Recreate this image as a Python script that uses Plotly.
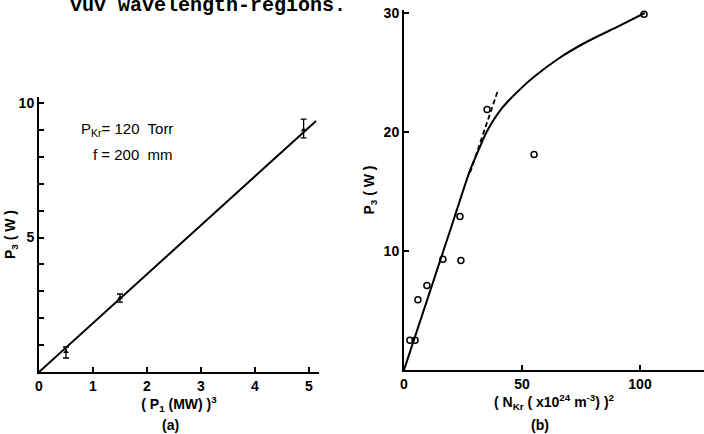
import plotly.graph_objects as go

W, H = 704, 434

# ---- panel (a) data ----
a_x = [0.5, 1.5, 4.9]
a_y = [0.75, 2.75, 9.0]
a_err_plus = [0.18, 0.15, 0.4]
a_err_minus = [0.23, 0.15, 0.3]
a_fit_x = [0.0, 5.13]
a_fit_y = [0.0, 9.33]
a_xticks = [0, 1, 2, 3, 4, 5]
a_xticklabels = ["0", "1", "2", "3", "4", "5"]
a_yticks = [0, 1, 2, 3, 4, 5, 6, 7, 8, 9, 10]
a_yticklabels = ["", "", "", "", "", "5", "", "", "", "", "10"]

# ---- panel (b) data ----
b_x = [2.5, 4.7, 5.9, 9.7, 16.5, 24.1, 23.7, 35.2, 55.1, 101.7]
b_y = [2.5, 2.5, 5.9, 7.1, 9.3, 9.2, 12.9, 21.9, 18.1, 29.9]
b_curve_x = [0, 10, 20, 28, 31, 35, 41.5, 48.7, 55.5, 65.7, 76.7, 91, 102]
b_curve_y = [0, 6.0, 12.0, 16.8, 18.2, 20.0, 22.0, 23.5, 24.7, 26.2, 27.5, 28.9, 30.0]
b_dash_x = [28, 39.8]
b_dash_y = [16.6, 23.5]
b_xticks = [0, 50, 100]
b_xticklabels = ["0", "50", "100"]
b_yticks = [0, 10, 20, 30]
b_yticklabels = ["", "10", "20", "30"]

def px_x(p):
    return p / W

def px_y(p):
    return 1 - p / H

fig = go.Figure()

fig.add_trace(go.Scatter(x=a_fit_x, y=a_fit_y, mode="lines",
                         line=dict(color="black", width=2), xaxis="x", yaxis="y",
                         showlegend=False))
fig.add_trace(go.Scatter(x=a_x, y=a_y, mode="markers",
                         marker=dict(symbol="triangle-up", size=5, color="black"),
                         error_y=dict(type="data", symmetric=False, array=a_err_plus,
                                      arrayminus=a_err_minus, color="black",
                                      thickness=1.3, width=3),
                         xaxis="x", yaxis="y", showlegend=False))

fig.add_trace(go.Scatter(x=b_curve_x, y=b_curve_y, mode="lines",
                         line=dict(color="black", width=2, shape="spline", smoothing=0.7),
                         xaxis="x2", yaxis="y2", showlegend=False))
fig.add_trace(go.Scatter(x=b_dash_x, y=b_dash_y, mode="lines",
                         line=dict(color="black", width=1.8, dash="5px,3px"),
                         xaxis="x2", yaxis="y2", showlegend=False))
fig.add_trace(go.Scatter(x=b_x, y=b_y, mode="markers",
                         marker=dict(symbol="circle-open", size=6, color="black",
                                     line=dict(width=1.5, color="black")),
                         xaxis="x2", yaxis="y2", showlegend=False))

tickfont = dict(family="Liberation Sans", size=14, color="black", weight="bold")
titlefont = dict(family="Liberation Sans", size=14, color="black", weight="bold")
axis_common = dict(showline=True, linewidth=2, linecolor="black", ticks="inside",
                   ticklen=5, tickwidth=1.5, tickcolor="black", showgrid=False,
                   zeroline=False, tickfont=tickfont, automargin=False,
                   fixedrange=True)

fig.update_layout(
    width=W, height=H,
    margin=dict(l=0, r=0, t=0, b=0),
    paper_bgcolor="white", plot_bgcolor="white",
    font=dict(family="Liberation Sans", color="black"),
    xaxis=dict(domain=[px_x(39), px_x(319)], range=[0, 280 / 54],
               tickmode="array", tickvals=a_xticks, ticktext=a_xticklabels,
               anchor="y",
               title=dict(text="( P<sub>1</sub> (MW) )<sup>3</sup>", font=titlefont,
                          standoff=0),
               **axis_common),
    yaxis=dict(domain=[px_y(372), px_y(97)], range=[0, 275 / 26.9],
               tickmode="array", tickvals=a_yticks, ticktext=a_yticklabels,
               anchor="x",
               title=dict(text="P<sub>3</sub> ( W )", font=titlefont, standoff=0),
               **axis_common),
    xaxis2=dict(domain=[px_x(404), px_x(704)], range=[0, 300 / 2.36],
                tickmode="array", tickvals=b_xticks, ticktext=b_xticklabels,
                anchor="y2",
                title=dict(text="( N<sub>Kr</sub> ( x10<sup>24</sup> m<sup>-3</sup>) )<sup>2</sup>",
                           font=titlefont, standoff=0),
                **axis_common),
    yaxis2=dict(domain=[px_y(370), px_y(10)], range=[0, 360 / 11.9],
                tickmode="array", tickvals=b_yticks, ticktext=b_yticklabels,
                anchor="x2",
                title=dict(text="P<sub>3</sub> ( W )", font=titlefont, standoff=6),
                **axis_common),
)

ann_font = dict(family="Liberation Sans", size=15, color="black")
fig.add_annotation(text="P<sub>Kr</sub>= 120  Torr", x=2.52, y=9.0, xref="x", yref="y",
                   xanchor="right", yanchor="middle", showarrow=False, font=ann_font)
fig.add_annotation(text="f = 200  mm", x=2.52, y=8.1, xref="x", yref="y",
                   xanchor="right", yanchor="middle", showarrow=False, font=ann_font)
fig.add_annotation(text="(a)", x=px_x(170), y=px_y(425), xref="paper", yref="paper",
                   xanchor="center", yanchor="middle", showarrow=False, font=titlefont)
fig.add_annotation(text="(b)", x=px_x(540), y=px_y(425), xref="paper", yref="paper",
                   xanchor="center", yanchor="middle", showarrow=False, font=titlefont)
fig.add_annotation(text="vuv wavelength-regions.", x=px_x(68), y=px_y(5),
                   xref="paper", yref="paper", xanchor="left", yanchor="middle",
                   showarrow=False,
                   font=dict(family="Liberation Mono", size=20, color="black",
                             weight="bold"))

fig.write_html("out.html", config={"displayModeBar": False},
               post_script="document.body.style.margin='0';")
